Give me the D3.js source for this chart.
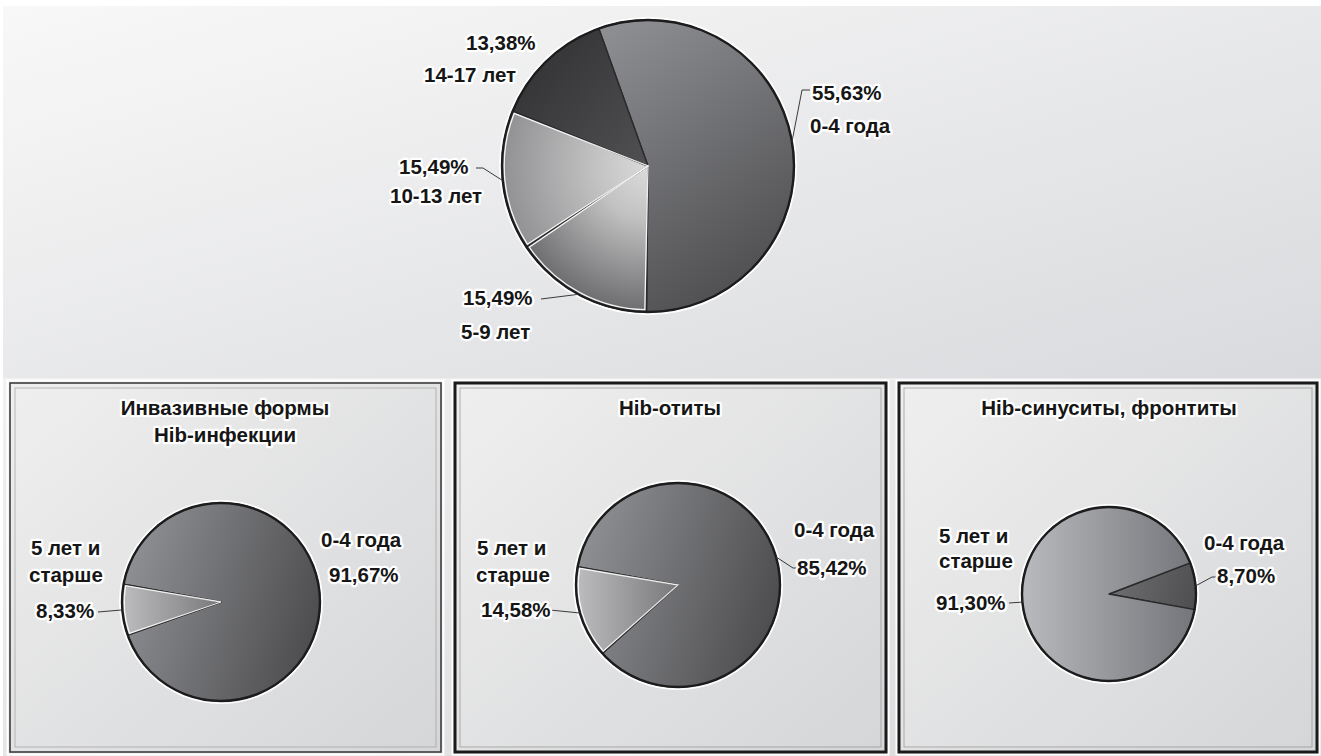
<!DOCTYPE html>
<html>
<head>
<meta charset="utf-8">
<script src="https://cdn.jsdelivr.net/npm/d3@7"></script>
<style>
  html, body { margin: 0; padding: 0; background: #ffffff; }
  svg { display: block; }
  text { font-family: "Liberation Sans", Arial, Helvetica, sans-serif; font-weight: bold; }
</style>
</head>
<body>
<script>
// ---------- DATA ----------
const topCategories = ["0-4 года", "5-9 лет", "10-13 лет", "14-17 лет"];
const topValues = [55.63, 15.49, 15.49, 13.38];

const panelTitles = [["Инвазивные формы", "Hib-инфекции"], ["Hib-отиты"], ["Hib-синуситы, фронтиты"]];
const panelCategories = ["0-4 года", "5 лет и\nстарше"];
const invasiveValues = [91.67, 8.33];
const otitisValues = [85.42, 14.58];
const sinusitisValues = [8.70, 91.30];

// ---------- LAYOUT ----------
const W = 1321, H = 756;
const FS = 20.5;
const svg = d3.select("body").append("svg").attr("width", W).attr("height", H);
const defs = svg.append("defs");

const fmt = v => d3.format(".2f")(v).replace(".", ",") + "%";

// gradient coordinates are relative to the pie centre (the slices live in a translated group)
function linGrad(id, x1, y1, x2, y2, stops) {
  const g = defs.append("linearGradient").attr("id", id)
    .attr("gradientUnits", "userSpaceOnUse")
    .attr("x1", x1).attr("y1", y1).attr("x2", x2).attr("y2", y2);
  stops.forEach(s => g.append("stop").attr("offset", s[0]).attr("stop-color", s[1]));
  return "url(#" + id + ")";
}
function radGrad(id, cx, cy, r, stops) {
  const g = defs.append("radialGradient").attr("id", id)
    .attr("gradientUnits", "userSpaceOnUse")
    .attr("cx", cx).attr("cy", cy).attr("r", r);
  stops.forEach(s => g.append("stop").attr("offset", s[0]).attr("stop-color", s[1]));
  return "url(#" + id + ")";
}
function bboxGrad(id, stops) {
  const g = defs.append("linearGradient").attr("id", id)
    .attr("x1", 0).attr("y1", 0).attr("x2", 1).attr("y2", 1);
  stops.forEach(s => g.append("stop").attr("offset", s[0]).attr("stop-color", s[1]));
  return "url(#" + id + ")";
}

// ---------- BACKGROUND ----------
svg.append("rect").attr("x", 3).attr("y", 6).attr("width", W - 3).attr("height", 373)
  .attr("fill", bboxGrad("bgTop", [[0, "#f8f8f8"], [1, "#d9dadd"]]));
svg.append("rect").attr("x", 3).attr("y", 379).attr("width", W - 3).attr("height", H - 379)
  .attr("fill", bboxGrad("bgBot", [[0, "#f1f1f1"], [1, "#d9d9db"]]));
svg.append("line").attr("x1", 3).attr("x2", W).attr("y1", 379).attr("y2", 379)
  .attr("stroke", "#f7f7f7").attr("stroke-width", 1);

// ---------- PANELS ----------
const panels = [
  { x: 10, y: 383, w: 431, h: 369, outer: "#3c3c3c", ow: 1.6, inner: "#9a9a9a" },
  { x: 455, y: 383, w: 431, h: 369, outer: "#1a1a1a", ow: 3, inner: "#8a8a8a" },
  { x: 899, y: 383, w: 418, h: 369, outer: "#1a1a1a", ow: 3, inner: "#8a8a8a" }
];
const boxFill = bboxGrad("boxFill", [[0, "#efefef"], [1, "#d5d6d8"]]);
panels.forEach(p => {
  svg.append("rect").attr("x", p.x - 2.5).attr("y", p.y - 2.5).attr("width", p.w + 5).attr("height", p.h + 5)
    .attr("fill", "none").attr("stroke", "#ffffff").attr("stroke-width", 2);
  svg.append("rect").attr("x", p.x).attr("y", p.y).attr("width", p.w).attr("height", p.h)
    .attr("fill", boxFill).attr("stroke", p.outer).attr("stroke-width", p.ow);
  svg.append("rect").attr("x", p.x + 5).attr("y", p.y + 5).attr("width", p.w - 10).attr("height", p.h - 10)
    .attr("fill", "none").attr("stroke", p.inner).attr("stroke-width", 0.8).attr("opacity", 0.8);
});

// ---------- PIE DRAWING ----------
function drawPie(values, cfg) {
  const g = svg.append("g").attr("transform", `translate(${cfg.cx},${cfg.cy})`);
  const a0 = cfg.start * Math.PI / 180;
  const pie = d3.pie().sort(null).value(d => d).startAngle(a0).endAngle(a0 + 2 * Math.PI);
  const arcs = pie(values);
  const arc = d3.arc().innerRadius(0).outerRadius(cfg.r);
  const arcIn = d3.arc().innerRadius(0).outerRadius(cfg.r - 2.2);

  g.append("circle").attr("r", cfg.r + 3).attr("fill", "#ffffff");
  g.selectAll("path.slice").data(arcs).enter().append("path").attr("class", "slice")
    .attr("d", arc).attr("fill", (d, i) => cfg.fills[i])
    .attr("stroke", "#2a2a2a").attr("stroke-width", 1.4).attr("stroke-linejoin", "round");
  g.selectAll("path.hl").data(arcs.filter((d, i) => cfg.light[i])).enter().append("path").attr("class", "hl")
    .attr("d", d => arcIn({ startAngle: d.startAngle + 0.012, endAngle: d.endAngle - 0.012 }))
    .attr("fill", "none").attr("stroke", "#ffffff").attr("stroke-width", 1.3).attr("opacity", 0.9);
  g.append("circle").attr("r", cfg.r).attr("fill", "none").attr("stroke", "#1c1c1c").attr("stroke-width", 2.4);
  return arcs;
}

function rimPoint(cfg, d) {
  const a = (d.startAngle + d.endAngle) / 2;
  return [cfg.cx + Math.sin(a) * cfg.r, cfg.cy - Math.cos(a) * cfg.r];
}

function drawText(x, y, str, anchor) {
  svg.append("text").attr("x", x).attr("y", y).attr("text-anchor", anchor || "start")
    .attr("font-size", FS)
    .attr("fill", "#161616").attr("stroke", "#ffffff").attr("stroke-width", 4.5)
    .attr("stroke-linejoin", "round").attr("paint-order", "stroke").text(str);
}

function drawLabels(cfg, arcs, values, cats, labels) {
  labels.forEach((lab, i) => {
    if (!lab) return;
    const catLines = cats[i].split("\n");
    const pct = fmt(values[i]);
    const lines = lab.pctFirst ? [pct, ...catLines] : [...catLines, pct];
    if (lab.leader) {
      const pts = [rimPoint(cfg, arcs[i]), ...lab.leader];
      svg.append("path").attr("d", d3.line()(pts)).attr("fill", "none")
        .attr("stroke", "#3a3a3a").attr("stroke-width", 1);
    }
    lines.forEach((t, k) => drawText(lab.x[k], lab.y[k], t, "start"));
  });
}

// ---------- TOP PIE ----------
const topCfg = { cx: 648, cy: 166, r: 146, start: -19.7 };
topCfg.fills = [
  linGrad("t0", -40, -140, 130, 130, [[0, "#8e8f93"], [1, "#4a4a4c"]]),
  radGrad("t1", 0, 0, 150, [[0, "#dcdcdc"], [0.35, "#c2c2c3"], [1, "#69696b"]]),
  radGrad("t2", 0, 0, 150, [[0, "#dadadb"], [0.3, "#c6c6c7"], [1, "#8f8f91"]]),
  linGrad("t3", -130, -120, 0, 0, [[0, "#313133"], [1, "#505052"]])
];
topCfg.light = [false, true, true, false];
const topArcs = drawPie(topValues, topCfg);
drawLabels(topCfg, topArcs, topValues, topCategories, [
  { pctFirst: true, x: [812, 810], y: [100, 133], leader: [[802, 90], [810, 90]] },
  { pctFirst: true, x: [463, 461], y: [305, 339], leader: [[541, 299]] },
  { pctFirst: true, x: [399, 390], y: [174, 203], leader: [[483, 168], [476, 168]] },
  { pctFirst: true, x: [466, 424], y: [50, 82], leader: null }
]);

// ---------- BOTTOM PIES ----------
function darkGrad(id, cfg) {
  return linGrad(id, -cfg.r, -cfg.r * 0.3, cfg.r, cfg.r * 0.3, [[0, "#8f9094"], [1, "#4c4c4e"]]);
}
function lightSmallGrad(id, cfg) {
  return linGrad(id, -cfg.r, 0, cfg.r, 0, [[0, "#bdbdc0"], [0.5, "#78787b"], [1, "#4a4a4c"]]);
}
function lightBigGrad(id, cfg) {
  return linGrad(id, -cfg.r, 0, cfg.r, 0, [[0, "#b9babd"], [1, "#74757a"]]);
}

// titles
drawText(225, 415, panelTitles[0][0], "middle");
drawText(225, 442, panelTitles[0][1], "middle");
drawText(670, 415, panelTitles[1][0], "middle");
drawText(1109, 415, panelTitles[2][0], "middle");

// Pie 1: invasive
const p1 = { cx: 221, cy: 602, r: 99, start: 280.4 };
p1.fills = [darkGrad("p1a", p1), lightSmallGrad("p1b", p1)];
p1.light = [false, true];
const p1Arcs = drawPie(invasiveValues, p1);
drawLabels(p1, p1Arcs, invasiveValues, panelCategories, [
  { pctFirst: false, x: [321, 329], y: [547, 582], leader: null },
  { pctFirst: false, x: [31, 29, 36], y: [555, 582, 618], leader: [[98, 612]] }
]);

// Pie 2: otitis
const p2 = { cx: 678, cy: 585, r: 102, start: 280.3 };
p2.fills = [darkGrad("p2a", p2), lightSmallGrad("p2b", p2)];
p2.light = [false, true];
const p2Arcs = drawPie(otitisValues, p2);
drawLabels(p2, p2Arcs, otitisValues, panelCategories, [
  { pctFirst: false, x: [794, 797], y: [537, 575], leader: [[793, 568], [798, 568]] },
  { pctFirst: false, x: [477, 476, 481], y: [555, 582, 617], leader: [[550, 610]] }
]);

// Pie 3: sinusitis
const p3 = { cx: 1109, cy: 594, r: 87, start: 69 };
p3.fills = [darkGrad("p3a", p3), lightBigGrad("p3b", p3)];
p3.light = [false, false];
const p3Arcs = drawPie(sinusitisValues, p3);
drawLabels(p3, p3Arcs, sinusitisValues, panelCategories, [
  { pctFirst: false, x: [1204, 1217], y: [550, 583], leader: [[1212, 577], [1217, 577]] },
  { pctFirst: false, x: [939, 939, 936], y: [543, 568, 610], leader: [[1009, 603]] }
]);
</script>
</body>
</html>
